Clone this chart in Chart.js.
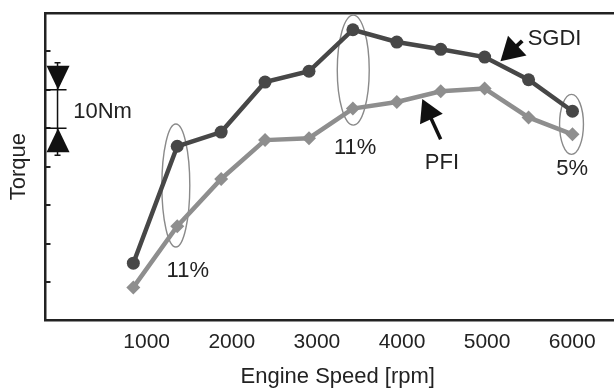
<!DOCTYPE html>
<html><head><meta charset="utf-8">
<script src="https://cdn.jsdelivr.net/npm/chart.js@4/dist/chart.umd.min.js"></script>
<style>html,body{margin:0;padding:0;background:#fff;overflow:hidden}#wrap{width:614px;height:392px;overflow:hidden}canvas{display:block}</style>
</head><body><div id="wrap"><canvas id="c" width="637" height="392"></canvas></div>
<script>
// ---- data (torque in relative Nm, one grid step = 10 Nm) ----
const speeds = [1000,1500,2000,2500,3000,3500,4000,4500,5000,5500,6000];
const sgdiTorque = [14.9,45.3,49.0,62.0,64.8,75.6,72.4,70.5,68.5,62.6,54.4];
const pfiTorque  = [8.6,24.5,36.8,46.9,47.4,55.1,56.8,59.6,60.3,52.8,48.4];
const speedTickLabels = [1000,2000,3000,4000,5000,6000];
const seriesNames = ['SGDI','PFI'];
const gainLabels = ['11%','11%','5%'];
const gainSpeeds = [1484,3504,5989];
const gainTorqueCenters = [35.1,65.1,51.0];
const gainHalfSpeeds = [159,182,136];
const gainHalfTorques = [16,14.3,7.8];
const gainLabelSpeeds = [1620,3526,5996];
const gainLabelTorques = [12.9,44.8,39.5];
const scaleBarLabel = '10Nm';
const scaleBarSpeed = 137;
const scaleBarRange = [50,60];

const FONT = "'Liberation Sans', Arial, Helvetica, sans-serif";
const TXT = '#222';

const annotate = {
  id: 'annotate',
  beforeDatasetsDraw(chart) {
    const {ctx, chartArea: a, scales: {x, y}} = chart;
    const X = v => x.getPixelForValue(v), Y = v => y.getPixelForValue(v);
    ctx.save();
    ctx.strokeStyle = '#222'; ctx.lineWidth = 2;
    x.ticks.forEach(t => {
      if (t.value > 0 && t.value <= 6000 && t.value % 500 === 0) {
        const px = Math.round(X(t.value));
        ctx.beginPath(); ctx.moveTo(px, a.bottom); ctx.lineTo(px, a.bottom - 5); ctx.stroke();
      }
    });
    y.ticks.forEach(t => {
      if (t.value > y.min && t.value < y.max) {
        const py = Math.round(Y(t.value));
        ctx.beginPath(); ctx.moveTo(a.left, py); ctx.lineTo(a.left + 5, py); ctx.stroke();
      }
    });
    ctx.strokeStyle = '#8a8a8a'; ctx.lineWidth = 1.4;
    gainSpeeds.forEach((s, i) => {
      const cx = X(s), cy = Y(gainTorqueCenters[i]);
      const rx = X(s + gainHalfSpeeds[i]) - cx;
      const ry = cy - Y(gainTorqueCenters[i] + gainHalfTorques[i]);
      ctx.beginPath(); ctx.ellipse(cx, cy, rx, ry, 0, 0, Math.PI * 2); ctx.stroke();
    });
    ctx.restore();
  },
  afterDraw(chart) {
    const {ctx, chartArea: a, scales: {x, y}} = chart;
    const X = v => x.getPixelForValue(v), Y = v => y.getPixelForValue(v);
    ctx.save();
    ctx.fillStyle = TXT;
    ctx.textAlign = 'center'; ctx.textBaseline = 'middle';
    ctx.font = '22px ' + FONT;
    gainLabels.forEach((l, i) => ctx.fillText(l, X(gainLabelSpeeds[i]), Y(gainLabelTorques[i])));
    ctx.fillText(seriesNames[0], X(5796), Y(73.1));
    ctx.fillText(seriesNames[1], X(4514), Y(40.9));
    ctx.fillText(scaleBarLabel, X(650), Y(54.3));

    function arrow(x0, y0, x1, y1, headLen, headW, shaftW) {
      const dx = x1 - x0, dy = y1 - y0, L = Math.hypot(dx, dy), ux = dx / L, uy = dy / L;
      const bx = x1 - ux * headLen, by = y1 - uy * headLen;
      ctx.fillStyle = '#111'; ctx.strokeStyle = '#111';
      ctx.lineWidth = shaftW; ctx.beginPath(); ctx.moveTo(x0, y0); ctx.lineTo(bx + ux * 2, by + uy * 2); ctx.stroke();
      ctx.beginPath(); ctx.moveTo(x1, y1);
      ctx.lineTo(bx - uy * headW / 2, by + ux * headW / 2);
      ctx.lineTo(bx + uy * headW / 2, by - ux * headW / 2);
      ctx.closePath(); ctx.fill();
    }
    arrow(X(5428), Y(72.7), X(5180), Y(67.4), 23, 27, 4);
    arrow(X(4499), Y(47.1), X(4290), Y(57.6), 22, 25, 3.5);

    const bx = X(scaleBarSpeed), yHi = Y(scaleBarRange[1]), yLo = Y(scaleBarRange[0]);
    ctx.strokeStyle = '#111'; ctx.lineWidth = 1.5;
    ctx.beginPath();
    ctx.moveTo(bx, yHi - 27); ctx.lineTo(bx, yLo + 27);
    ctx.moveTo(bx - 3, yHi - 27); ctx.lineTo(bx + 3, yHi - 27);
    ctx.moveTo(bx - 3, yLo + 27); ctx.lineTo(bx + 3, yLo + 27);
    ctx.moveTo(a.left, yHi); ctx.lineTo(bx + 9, yHi);
    ctx.moveTo(a.left, yLo); ctx.lineTo(bx + 9, yLo);
    ctx.stroke();
    ctx.fillStyle = '#111';
    ctx.beginPath(); ctx.moveTo(bx - 11, yHi - 24); ctx.lineTo(bx + 12, yHi - 24); ctx.lineTo(bx + 0.5, yHi); ctx.closePath(); ctx.fill();
    ctx.beginPath(); ctx.moveTo(bx - 11, yLo + 24); ctx.lineTo(bx + 12, yLo + 24); ctx.lineTo(bx + 0.5, yLo); ctx.closePath(); ctx.fill();
    ctx.restore();
  }
};

new Chart(document.getElementById('c'), {
  type: 'line',
  data: {
    datasets: [
      { label: seriesNames[0], data: speeds.map((s, i) => ({x: s, y: sgdiTorque[i]})),
        borderColor: '#474747', backgroundColor: '#474747', borderWidth: 4.5,
        pointStyle: 'circle', pointRadius: 6.5, pointBorderWidth: 0, tension: 0 },
      { label: seriesNames[1], data: speeds.map((s, i) => ({x: s, y: pfiTorque[i]})),
        borderColor: '#8e8e8e', backgroundColor: '#8e8e8e', borderWidth: 4.5,
        pointStyle: 'rectRot', pointRadius: 7, pointBorderWidth: 0, tension: 0 }
    ]
  },
  options: {
    responsive: false, animation: false, devicePixelRatio: 1,
    layout: { padding: 0 },
    plugins: { legend: { display: false }, tooltip: { enabled: false } },
    scales: {
      x: { type: 'linear', position: 'bottom', weight: 0, min: 0, max: 6655,
        ticks: { display: false, stepSize: 500 }, grid: { display: false, drawTicks: false },
        border: { display: true, color: '#222', width: 2.5 },
        afterFit: s => { s.height = 0; } },
      x2: { type: 'linear', position: 'bottom', weight: 1, min: -189, max: 6679,
        afterBuildTicks: s => { s.ticks = speedTickLabels.map(v => ({value: v})); },
        ticks: { display: true, color: TXT, padding: 9, maxRotation: 0, autoSkip: false,
          font: { family: FONT, size: 21 }, callback: v => String(v) },
        grid: { display: false, drawTicks: false }, border: { display: false },
        title: { display: true, text: 'Engine Speed [rpm]', color: TXT,
          font: { family: FONT, size: 22 }, padding: { top: 0, bottom: 2 } },
        afterFit: s => { s.height = 71.5; } },
      xTop: { type: 'linear', position: 'top', min: 0, max: 6655,
        ticks: { display: false }, grid: { display: false, drawTicks: false },
        border: { display: true, color: '#222', width: 2.5 },
        afterFit: s => { s.height = 12.8; } },
      y: { type: 'linear', position: 'left', min: 0, max: 80,
        ticks: { display: false, stepSize: 10 }, grid: { display: false, drawTicks: false },
        border: { display: true, color: '#222', width: 2.5 },
        title: { display: true, text: 'Torque', color: TXT,
          font: { family: FONT, size: 22 }, padding: { top: 6, bottom: 0 } },
        afterFit: s => { s.width = 45.5; } }
    }
  },
  plugins: [annotate]
});
</script></body></html>
